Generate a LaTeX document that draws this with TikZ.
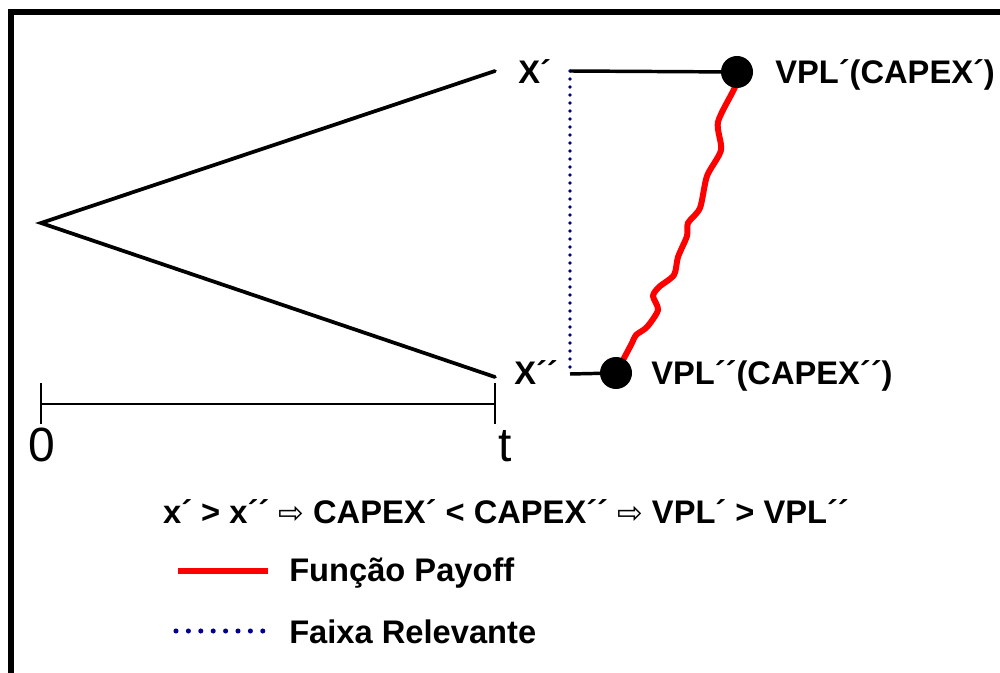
\documentclass[tikz,border=0pt]{standalone}
\usepackage{fontspec}
\setmainfont{Liberation Sans}
\newfontfamily\symfont{DejaVu Sans}
\definecolor{navy}{RGB}{0,0,140}
\begin{document}
\begin{tikzpicture}[x=0.75pt,y=-0.75pt,
  lbl/.style={inner sep=0pt,anchor=base west,font=\fontsize{24.5}{28}\selectfont\bfseries},
  axlbl/.style={inner sep=0pt,anchor=base,font=\fontsize{36}{40}\selectfont},
  branch/.style={line width=2.8pt,line cap=round},
  hline/.style={line width=2.6pt},
  dot/.style={circle,fill=black,inner sep=0pt,minimum size=24pt},
  payoff/.style={red,line width=4.5pt},
  faixa/.style={navy,line width=2.8pt,line cap=round,dash pattern=on 0pt off 6pt},
  faixaleg/.style={navy,line width=3.8pt,line cap=round,dash pattern=on 0pt off 9.3pt},
  arr/.style={}]
\useasboundingbox (0,0) rectangle (1000,673);
% frame
\draw[line width=4.5pt] (11,673) -- (11,12) -- (1000,12);
% tree
\coordinate (root) at (41,223);
\coordinate (up) at (495,71);
\coordinate (lo) at (495,377);
\draw[branch] (up) -- (root) -- (lo);
\node[lbl] (xp) at (518,84) {X´};
\node[lbl] (xpp) at (514,385) {X´´};
% relevant band
\coordinate (ur) at (570,71);
\coordinate (lr) at (570,374);
\coordinate (c1) at (737,72);
\coordinate (c2) at (616,373);
\draw[faixa] (ur) -- (lr);
% payoff curve
\draw[payoff] plot[smooth,tension=0.45] coordinates {(c2) (623,360) (632,343) (636,335) (647,327) (658,310) (653,296) (659,287) (674,275) (678,257) (687,236) (688,223) (700,208) (707,176) (721,150) (718,122) (735,87) (c1)};
\draw[hline] (ur) -- (c1);
\draw[hline] (lr) -- (c2);
\node[dot] (d1) at (c1) {};
\node[dot] (d2) at (c2) {};
\node[lbl] (v1) at (775,84) {VPL´(CAPEX´)};
\node[lbl] (v2) at (651,385) {VPL´´(CAPEX´´)};
% time axis
\coordinate (t0) at (41,404);
\coordinate (t1) at (495,404);
\draw[line width=1.8pt] (t0) -- (t1);
\draw[line width=1.8pt] ([yshift=-15]t0) -- ([yshift=16]t0);
\draw[line width=1.8pt] ([yshift=-15]t1) -- ([yshift=16]t1);
\node[axlbl] (l0) at (42,462) {0};
\node[axlbl] (lt) at (505,462) {t};
% equation
\node[inner sep=0pt,anchor=base,font=\fontsize{24.5}{28}\selectfont\bfseries] (eq) at (506,523)
 {x´ > x´´ {\symfont\mdseries\fontsize{23}{24}\selectfont ⇨} CAPEX´ < CAPEX´´ {\symfont\mdseries\fontsize{23}{24}\selectfont ⇨} VPL´ > VPL´´};
% legend
\coordinate (a1) at (178,571);
\coordinate (a2) at (268,571);
\draw[red,line width=4.5pt] (a1) -- (a2);
\node[lbl] (leg1) at (289,581) {Função Payoff};
\coordinate (b1) at (176,631);
\coordinate (b2) at (263,631);
\draw[faixaleg] (b1) -- (b2);
\node[lbl] (leg2) at (289,643) {Faixa Relevante};
\end{tikzpicture}
\end{document}
